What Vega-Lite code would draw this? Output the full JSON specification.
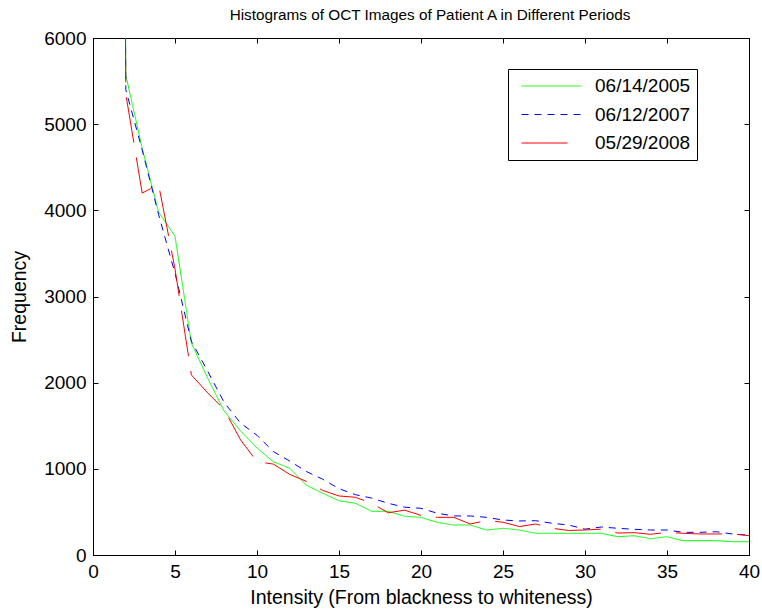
{
  "$schema": "https://vega.github.io/schema/vega-lite/v6.json",
  "autosize": "none",
  "width": 656,
  "height": 517,
  "padding": {"left": 93, "top": 38, "right": 13, "bottom": 56},
  "background": "white",
  "title": {"text": "Histograms of OCT Images of Patient A in Different Periods", "font": "Liberation Sans", "fontSize": 15.3, "fontWeight": "normal", "color": "black", "anchor": "middle", "offset": 6, "dx": 9},
  "config": {
    "view": {"stroke": "black", "strokeWidth": 1},
    "axis": {"grid": false, "domainColor": "black", "tickColor": "black", "labelColor": "black", "titleColor": "black", "labelFont": "Liberation Sans", "titleFont": "Liberation Sans", "labelFontSize": 19, "titleFontSize": 19.5, "titleFontWeight": "normal", "tickSize": -5, "labelPadding": 12, "labelFlush": false, "labelOverlap": false},
    "legend": {"orient": "none", "legendX": 415, "legendY": 31, "strokeColor": "black", "fillColor": "white", "padding": 6, "symbolType": "stroke", "symbolSize": 3600, "symbolStrokeWidth": 1, "symbolOffset": 7, "clipHeight": 22, "labelFont": "Liberation Sans", "labelFontSize": 19, "labelColor": "black", "labelOffset": 13, "rowPadding": 6.5, "symbolOpacity": 1}
  },
  "datasets": {
    "hist": [
      {"x": 1, "series": "06/14/2005", "v": 40000}, {"x": 2, "series": "06/14/2005", "v": 5570}, {"x": 3, "series": "06/14/2005", "v": 4720}, {"x": 4, "series": "06/14/2005", "v": 3980}, {"x": 5, "series": "06/14/2005", "v": 3700},
      {"x": 6, "series": "06/14/2005", "v": 2460}, {"x": 7, "series": "06/14/2005", "v": 2050}, {"x": 8, "series": "06/14/2005", "v": 1670}, {"x": 9, "series": "06/14/2005", "v": 1440}, {"x": 10, "series": "06/14/2005", "v": 1242},
      {"x": 11, "series": "06/14/2005", "v": 1083}, {"x": 12, "series": "06/14/2005", "v": 1006}, {"x": 13, "series": "06/14/2005", "v": 812}, {"x": 14, "series": "06/14/2005", "v": 716}, {"x": 15, "series": "06/14/2005", "v": 630},
      {"x": 16, "series": "06/14/2005", "v": 600}, {"x": 17, "series": "06/14/2005", "v": 507}, {"x": 18, "series": "06/14/2005", "v": 507}, {"x": 19, "series": "06/14/2005", "v": 450}, {"x": 20, "series": "06/14/2005", "v": 437},
      {"x": 21, "series": "06/14/2005", "v": 379}, {"x": 22, "series": "06/14/2005", "v": 348}, {"x": 23, "series": "06/14/2005", "v": 348}, {"x": 24, "series": "06/14/2005", "v": 290}, {"x": 25, "series": "06/14/2005", "v": 310},
      {"x": 26, "series": "06/14/2005", "v": 290}, {"x": 27, "series": "06/14/2005", "v": 252}, {"x": 28, "series": "06/14/2005", "v": 252}, {"x": 29, "series": "06/14/2005", "v": 252}, {"x": 30, "series": "06/14/2005", "v": 252},
      {"x": 31, "series": "06/14/2005", "v": 252}, {"x": 32, "series": "06/14/2005", "v": 212}, {"x": 33, "series": "06/14/2005", "v": 224}, {"x": 34, "series": "06/14/2005", "v": 189}, {"x": 35, "series": "06/14/2005", "v": 212},
      {"x": 36, "series": "06/14/2005", "v": 166}, {"x": 37, "series": "06/14/2005", "v": 166}, {"x": 38, "series": "06/14/2005", "v": 166}, {"x": 39, "series": "06/14/2005", "v": 154}, {"x": 40, "series": "06/14/2005", "v": 154},

      {"x": 1, "series": "06/12/2007", "v": 40000}, {"x": 2, "series": "06/12/2007", "v": 5400}, {"x": 3, "series": "06/12/2007", "v": 4700}, {"x": 4, "series": "06/12/2007", "v": 3950}, {"x": 5, "series": "06/12/2007", "v": 3270},
      {"x": 6, "series": "06/12/2007", "v": 2480}, {"x": 7, "series": "06/12/2007", "v": 2130}, {"x": 8, "series": "06/12/2007", "v": 1770}, {"x": 9, "series": "06/12/2007", "v": 1530}, {"x": 10, "series": "06/12/2007", "v": 1390},
      {"x": 11, "series": "06/12/2007", "v": 1200}, {"x": 12, "series": "06/12/2007", "v": 1090}, {"x": 13, "series": "06/12/2007", "v": 970}, {"x": 14, "series": "06/12/2007", "v": 880}, {"x": 15, "series": "06/12/2007", "v": 770},
      {"x": 16, "series": "06/12/2007", "v": 700}, {"x": 17, "series": "06/12/2007", "v": 660}, {"x": 18, "series": "06/12/2007", "v": 600}, {"x": 19, "series": "06/12/2007", "v": 555}, {"x": 20, "series": "06/12/2007", "v": 542},
      {"x": 21, "series": "06/12/2007", "v": 484}, {"x": 22, "series": "06/12/2007", "v": 453}, {"x": 23, "series": "06/12/2007", "v": 453}, {"x": 24, "series": "06/12/2007", "v": 437}, {"x": 25, "series": "06/12/2007", "v": 406},
      {"x": 26, "series": "06/12/2007", "v": 395}, {"x": 27, "series": "06/12/2007", "v": 398}, {"x": 28, "series": "06/12/2007", "v": 368}, {"x": 29, "series": "06/12/2007", "v": 348}, {"x": 30, "series": "06/12/2007", "v": 300},
      {"x": 31, "series": "06/12/2007", "v": 325}, {"x": 32, "series": "06/12/2007", "v": 310}, {"x": 33, "series": "06/12/2007", "v": 298}, {"x": 34, "series": "06/12/2007", "v": 290}, {"x": 35, "series": "06/12/2007", "v": 290},
      {"x": 36, "series": "06/12/2007", "v": 263}, {"x": 37, "series": "06/12/2007", "v": 263}, {"x": 38, "series": "06/12/2007", "v": 270}, {"x": 39, "series": "06/12/2007", "v": 244}, {"x": 40, "series": "06/12/2007", "v": 230},

      {"x": 1, "series": "05/29/2008", "v": 40000}, {"x": 2, "series": "05/29/2008", "v": 5350}, {"x": 3, "series": "05/29/2008", "v": 4200}, {"x": 4, "series": "05/29/2008", "v": 4300}, {"x": 5, "series": "05/29/2008", "v": 3320},
      {"x": 6, "series": "05/29/2008", "v": 2090}, {"x": 7, "series": "05/29/2008", "v": 1880}, {"x": 8, "series": "05/29/2008", "v": 1690}, {"x": 9, "series": "05/29/2008", "v": 1335}, {"x": 10, "series": "05/29/2008", "v": 1083},
      {"x": 11, "series": "05/29/2008", "v": 1055}, {"x": 12, "series": "05/29/2008", "v": 935}, {"x": 13, "series": "05/29/2008", "v": 855}, {"x": 14, "series": "05/29/2008", "v": 750}, {"x": 15, "series": "05/29/2008", "v": 685},
      {"x": 16, "series": "05/29/2008", "v": 670}, {"x": 17, "series": "05/29/2008", "v": 600}, {"x": 18, "series": "05/29/2008", "v": 490}, {"x": 19, "series": "05/29/2008", "v": 520}, {"x": 20, "series": "05/29/2008", "v": 460},
      {"x": 21, "series": "05/29/2008", "v": 437}, {"x": 22, "series": "05/29/2008", "v": 437}, {"x": 23, "series": "05/29/2008", "v": 360}, {"x": 24, "series": "05/29/2008", "v": 400}, {"x": 25, "series": "05/29/2008", "v": 380},
      {"x": 26, "series": "05/29/2008", "v": 330}, {"x": 27, "series": "05/29/2008", "v": 360}, {"x": 28, "series": "05/29/2008", "v": 310}, {"x": 29, "series": "05/29/2008", "v": 285}, {"x": 30, "series": "05/29/2008", "v": 290},
      {"x": 31, "series": "05/29/2008", "v": 300}, {"x": 32, "series": "05/29/2008", "v": 255}, {"x": 33, "series": "05/29/2008", "v": 259}, {"x": 34, "series": "05/29/2008", "v": 240}, {"x": 35, "series": "05/29/2008", "v": 263},
      {"x": 36, "series": "05/29/2008", "v": 252}, {"x": 37, "series": "05/29/2008", "v": 244}, {"x": 38, "series": "05/29/2008", "v": 244}, {"x": 39, "series": "05/29/2008", "v": 244}, {"x": 40, "series": "05/29/2008", "v": 224}
    ]
  },
  "data": {"name": "hist"},
  "layer": [
    {
      "mark": {"type": "line", "clip": true, "strokeWidth": 1},
      "encoding": {
        "x": {"field": "x", "type": "quantitative", "scale": {"domain": [0, 40], "nice": false, "zero": false}, "axis": {"values": [0, 5, 10, 15, 20, 25, 30, 35, 40], "title": "Intensity (From blackness to whiteness)", "titlePadding": 7, "labelPadding": 12}},
        "y": {"field": "v", "type": "quantitative", "scale": {"domain": [0, 6000], "nice": false}, "axis": {"values": [0, 1000, 2000, 3000, 4000, 5000, 6000], "format": "d", "title": "Frequency", "titlePadding": 14}},
        "color": {"field": "series", "type": "nominal", "scale": {"domain": ["06/14/2005", "06/12/2007", "05/29/2008"], "range": ["#00ff00", "#0000ff", "#ff0000"]}, "legend": {"title": null, "encode": {"symbols": {"update": {"strokeDash": {"scale": "strokeDash", "field": "value"}}}}}},
        "strokeDash": {"field": "series", "type": "nominal", "scale": {"domain": ["06/14/2005", "06/12/2007", "05/29/2008"], "range": [[1, 0], [7, 6], [46, 15]]}, "legend": null},
        "order": {"field": "x", "type": "quantitative"}
      }
    },
    {
      "mark": {"type": "line", "clip": true, "strokeOpacity": 0},
      "encoding": {
        "x": {"field": "x", "type": "quantitative", "scale": {"domain": [0, 40], "nice": false, "zero": false}, "axis": {"orient": "top", "values": [0, 5, 10, 15, 20, 25, 30, 35, 40], "labels": false, "title": null, "domain": false}},
        "y": {"field": "v", "type": "quantitative", "scale": {"domain": [0, 6000], "nice": false}, "axis": {"orient": "right", "values": [0, 1000, 2000, 3000, 4000, 5000, 6000], "labels": false, "title": null, "domain": false}},
        "detail": {"field": "series", "type": "nominal"}
      }
    }
  ],
  "resolve": {"axis": {"x": "independent", "y": "independent"}}
}
